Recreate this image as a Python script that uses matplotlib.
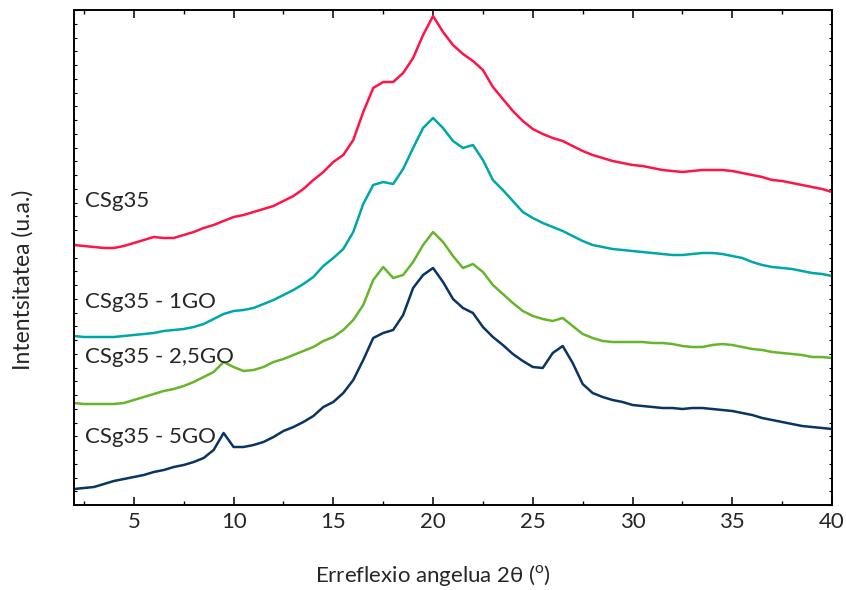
import matplotlib
matplotlib.use("Agg")
import matplotlib.pyplot as plt
from matplotlib.ticker import MultipleLocator
import numpy as np

plt.rcParams['font.family'] = ['Lato', 'DejaVu Sans']
plt.rcParams['mathtext.fontset'] = 'custom'
plt.rcParams['mathtext.rm'] = 'Lato'

# 2-theta grid (degrees)
two_theta = [2, 2.5, 3, 3.5, 4, 4.5, 5, 5.5, 6, 6.5, 7, 7.5, 8, 8.5, 9, 9.5, 10, 10.5,
             11, 11.5, 12, 12.5, 13, 13.5, 14, 14.5, 15, 15.5, 16, 16.5, 17, 17.5, 18, 18.5,
             19, 19.5, 20, 20.5, 21, 21.5, 22, 22.5, 23, 23.5, 24, 24.5, 25, 25.5, 26, 26.5,
             27, 27.5, 28, 28.5, 29, 29.5, 30, 30.5, 31, 31.5, 32, 32.5, 33, 33.5, 34, 34.5,
             35, 35.5, 36, 36.5, 37, 37.5, 38, 38.5, 39, 39.5, 40]

# intensities (arbitrary units, stacked with offset)
csg35 = [260, 259, 258, 257, 257, 259, 262, 265, 268, 267, 267, 270, 273, 277, 280, 284,
         288, 290, 293, 296, 299, 304, 309, 316, 325, 333, 343, 350, 365, 393, 417, 423,
         423, 432, 447, 470, 489, 473, 460, 451, 444, 435, 418, 406, 394, 384, 376, 371,
         367, 364, 359, 354, 350, 347, 344, 342, 340, 339, 337, 335, 334, 333, 334, 335,
         335, 335, 334, 332, 330, 328, 325, 324, 322, 320, 318, 316, 313]

csg35_1go = [169, 168, 168, 168, 168, 169, 170, 171, 172, 174, 175, 176, 178, 181, 186, 191,
             194, 195, 197, 201, 205, 210, 215, 221, 228, 239, 247, 256, 273, 301, 320, 323,
             321, 336, 357, 377, 387, 377, 364, 357, 360, 345, 325, 315, 304, 293, 287, 282,
             278, 274, 269, 264, 260, 258, 256, 255, 254, 253, 252, 251, 250, 250, 251, 252,
             252, 251, 249, 247, 243, 240, 238, 237, 236, 234, 232, 231, 229]

csg35_25go = [102, 101, 101, 101, 101, 102, 105, 108, 111, 114, 116, 119, 123, 128, 133, 143,
              138, 134, 135, 138, 143, 146, 150, 154, 158, 164, 168, 175, 185, 200, 225, 238,
              227, 230, 243, 260, 273, 263, 249, 237, 241, 233, 220, 211, 202, 194, 189, 186,
              184, 187, 179, 171, 167, 164, 163, 163, 163, 163, 162, 162, 161, 159, 158, 158,
              160, 161, 160, 158, 156, 155, 153, 152, 151, 150, 148, 148, 147]

csg35_5go = [16, 17, 18, 21, 24, 26, 28, 30, 33, 35, 38, 40, 43, 47, 55, 72,
             58, 58, 60, 63, 68, 74, 78, 83, 89, 98, 103, 112, 125, 145, 167, 172,
             175, 190, 217, 230, 237, 223, 206, 197, 192, 178, 168, 160, 151, 144, 138, 137,
             152, 159, 142, 121, 112, 108, 105, 103, 100, 99, 98, 97, 97, 96, 97, 97,
             96, 95, 94, 92, 90, 87, 85, 83, 81, 79, 78, 77, 76]

labels = ['CSg35', 'CSg35 - 1GO', 'CSg35 - 2,5GO', 'CSg35 - 5GO']
colors = ['#FF1449', '#00A7A8', '#67B52A', '#0A3563']

W, H = 846, 590
fig = plt.figure(figsize=(W / 100, H / 100), dpi=100)
ax = fig.add_axes([74 / W, 1 - 505 / H, (832 - 74) / W, (505 - 10) / H])

series = [csg35, csg35_1go, csg35_25go, csg35_5go]
for ys, c in zip(series, colors):
    ax.plot(two_theta, ys, color=c, lw=1.8, solid_joinstyle='round')

ax.set_xlim(2, 40)
ax.set_ylim(0, 495)
ax.xaxis.set_major_locator(MultipleLocator(5))
ax.xaxis.set_minor_locator(MultipleLocator(2.5))
ax.yaxis.set_major_locator(MultipleLocator(13.75))
ax.tick_params(axis='x', which='major', direction='in', length=5.5, width=1.1,
               top=True, labelsize=16, pad=5, labelcolor='#262626')
ax.tick_params(axis='x', which='minor', direction='in', length=3, width=1.0, top=True)
ax.tick_params(axis='y', which='major', direction='in', length=2.5, width=0.8,
               right=True, labelleft=False)
for s in ax.spines.values():
    s.set_linewidth(1.4)
    s.set_color('black')

# curve labels
label_pos = [(85, 207), (85, 308), (85, 363), (85, 443)]
for (px, py), t in zip(label_pos, labels):
    fig.text(px / W, 1 - py / H, t, fontsize=16, color='#262626', va='baseline', ha='left')

fig.text(433 / W, 1 - 576 / H, r'Erreflexio angelua 2θ ($^{\mathrm{o}}$)', fontsize=16,
         color='#262626', ha='center', va='center')
fig.text(23 / W, 1 - 280 / H, 'Intentsitatea (u.a.)', fontsize=16.5, color='#262626',
         ha='center', va='center', rotation=90)

fig.savefig('out.png', dpi=100)
